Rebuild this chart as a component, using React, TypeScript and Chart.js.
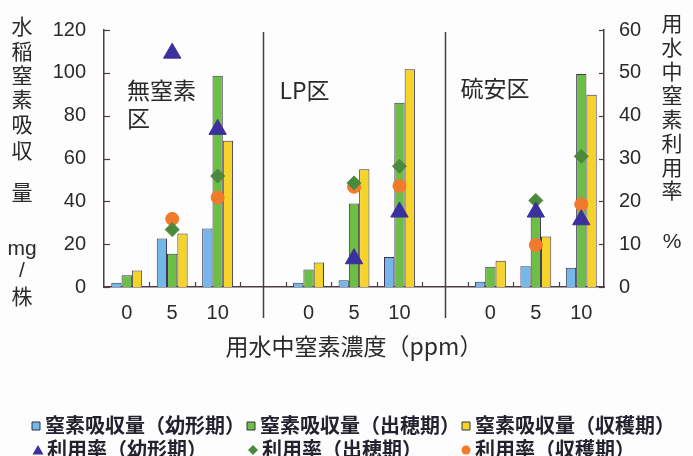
import React, { useEffect, useRef } from 'react';
import { Chart, registerables } from 'chart.js';

Chart.register(...registerables);

// ---------- data ----------
const categories = ['0', '5', '10', '', '0', '5', '10', '', '0', '5', '10'];
const panelNames = ['無窒素区', 'LP区', '硫安区'];
const yTickMax = 120;
const yTickStep = 20;
const y1TickMax = 60;
const y1TickStep = 10;

const uptakeYoukei = [2, 22.7, 27.3, null, 2, 3.2, 14, null, 2.4, 9.7, 9];
const uptakeShussui = [5.5, 15.5, 98.6, null, 8.2, 39, 86, null, 9.5, 33.5, 99.4];
const uptakeShukaku = [7.7, 25, 68.3, null, 11.4, 55, 101.7, null, 12.3, 23.6, 89.8];

const rateYoukei = [null, 54.6, 36.8, null, null, 6.6, 17.5, null, null, 17.5, 15.7];
const rateShussui = [null, 13.4, 25.9, null, null, 24.3, 28.2, null, null, 20.2, 30.5];
const rateShukaku = [null, 15.9, 20.9, null, null, 23.4, 23.6, null, null, 9.8, 19.3];

const seriesLabels = [
  '窒素吸収量（幼形期）',
  '窒素吸収量（出穂期）',
  '窒素吸収量（収穫期）',
  '利用率（幼形期）',
  '利用率（出穂期）',
  '利用率（収穫期）',
];
const leftTitleChars = ['水', '稲', '窒', '素', '吸', '収', '量'];
const leftUnitChars = ['mg', '/', '株'];
const rightTitleChars = ['用', '水', '中', '窒', '素', '利', '用', '率'];
const rightUnit = '%';
const xTitle = '用水中窒素濃度（ppm）';

// ---------- styles ----------
const W = 693;
const H = 456;
const CJK = "'Noto Sans CJK JP', 'Noto Sans', sans-serif";
const NUM = "'Liberation Sans', Arial, sans-serif";
const TEXT = '#2a2a2a';
const AXIS = '#4e3c44';
const BAR_BORDER = '#3a3456';
const C_BLUE = '#74b7e8';
const C_GREEN = '#6cbf44';
const C_YELLOW = '#f5d328';
const C_TRI = '#3c2f9e';
const C_DIA = '#4b8a3b';
const C_CIR = '#f27a2c';

const layout = {
  leftTitleX: 22,
  leftTitleY: [26, 51, 75, 99, 124, 150, 192],
  leftUnitY: [249, 271, 296],
  rightTitleX: 672,
  rightTitleY: [23, 47, 71, 95, 119, 143, 167, 190],
  rightUnitY: 242,
  panelLabelY: [90, 90, 88],
  panelLabelOffset: [23, 16, 15],
  legendRowY: [425, 449],
  legendX: [[36, 251, 466], [38, 253, 466]],
};

function drawMarker(ctx: CanvasRenderingContext2D, kind: string, cx: number, cy: number, color: string) {
  ctx.save();
  ctx.fillStyle = color;
  ctx.strokeStyle = '#333344';
  ctx.lineWidth = 1;
  ctx.beginPath();
  if (kind === 'square') {
    ctx.rect(cx - 4, cy - 4, 8, 8);
    ctx.fill();
    ctx.stroke();
  } else if (kind === 'triangle') {
    ctx.moveTo(cx, cy - 5);
    ctx.lineTo(cx + 5.5, cy + 4.5);
    ctx.lineTo(cx - 5.5, cy + 4.5);
    ctx.closePath();
    ctx.fill();
  } else if (kind === 'diamond') {
    ctx.moveTo(cx, cy - 5);
    ctx.lineTo(cx + 5, cy);
    ctx.lineTo(cx, cy + 5);
    ctx.lineTo(cx - 5, cy);
    ctx.closePath();
    ctx.fill();
  } else {
    ctx.arc(cx, cy, 4.5, 0, Math.PI * 2);
    ctx.fill();
  }
  ctx.restore();
}

const decorPlugin = {
  id: 'decor',
  beforeDraw(chart: any) {
    const { ctx } = chart;
    ctx.save();
    ctx.fillStyle = '#fdfdfe';
    ctx.fillRect(0, 0, chart.width, chart.height);
    ctx.restore();
  },
  afterDraw(chart: any) {
    const { ctx, chartArea: ca, scales } = chart;
    const x = scales.x;
    const y = scales.y;
    const y1 = scales.y1;
    ctx.save();
    ctx.strokeStyle = AXIS;
    ctx.lineWidth = 1.2;
    // inward ticks on left axis
    y.ticks.forEach((t: any) => {
      const py = Math.round(y.getPixelForValue(t.value)) + 0.5;
      ctx.beginPath();
      ctx.moveTo(ca.left, py);
      ctx.lineTo(ca.left + 6, py);
      ctx.stroke();
    });
    // inward ticks on right axis
    y1.ticks.forEach((t: any) => {
      const py = Math.round(y1.getPixelForValue(t.value)) + 0.5;
      ctx.beginPath();
      ctx.moveTo(ca.right - 5, py);
      ctx.lineTo(ca.right, py);
      ctx.stroke();
    });
    // x ticks at category boundaries
    for (let i = 0; i < categories.length - 1; i++) {
      const px = Math.round((x.getPixelForValue(i) + x.getPixelForValue(i + 1)) / 2) + 0.5;
      ctx.beginPath();
      ctx.moveTo(px, ca.bottom);
      ctx.lineTo(px, ca.bottom - 5);
      ctx.stroke();
    }
    // panel dividers
    const gaps = categories.map((c, i) => (c === '' ? i : -1)).filter((i) => i >= 0);
    const panelLefts = [ca.left];
    ctx.lineWidth = 1.5;
    ctx.strokeStyle = '#4a3c3c';
    gaps.forEach((gi) => {
      const px = Math.round(x.getPixelForValue(gi)) + 0.5;
      panelLefts.push(px);
      ctx.beginPath();
      ctx.moveTo(px, ca.top + 2);
      ctx.lineTo(px, ca.bottom + 31);
      ctx.stroke();
    });
    // panel labels
    ctx.fillStyle = TEXT;
    ctx.font = `23px ${CJK}`;
    ctx.textBaseline = 'middle';
    ctx.textAlign = 'left';
    panelNames.forEach((name, i) => {
      const lx = panelLefts[i] + layout.panelLabelOffset[i];
      const ly = layout.panelLabelY[i];
      if (i === 0) {
        ctx.fillText(name.slice(0, 3), lx, ly);
        ctx.fillText(name.slice(3), lx, ly + 28);
      } else {
        ctx.fillText(name, lx, ly);
      }
    });
    // left vertical title
    ctx.textAlign = 'center';
    ctx.font = `21px ${CJK}`;
    leftTitleChars.forEach((c, i) => ctx.fillText(c, layout.leftTitleX, layout.leftTitleY[i]));
    leftUnitChars.forEach((c, i) => {
      ctx.font = c === '株' ? `21px ${CJK}` : `21px ${NUM}`;
      ctx.fillText(c, layout.leftTitleX, layout.leftUnitY[i]);
    });
    // right vertical title
    ctx.font = `21px ${CJK}`;
    rightTitleChars.forEach((c, i) => ctx.fillText(c, layout.rightTitleX, layout.rightTitleY[i]));
    ctx.font = `21px ${NUM}`;
    ctx.fillText(rightUnit, layout.rightTitleX, layout.rightUnitY);
    // legend
    const kinds = ['square', 'square', 'square', 'triangle', 'diamond', 'circle'];
    const colors = [C_BLUE, C_GREEN, C_YELLOW, C_TRI, C_DIA, C_CIR];
    ctx.font = `bold 20px ${CJK}`;
    ctx.textAlign = 'left';
    seriesLabels.forEach((lab, i) => {
      const row = i < 3 ? 0 : 1;
      const col = i % 3;
      const mx = layout.legendX[row][col];
      const my = layout.legendRowY[row];
      drawMarker(ctx, kinds[i], mx, my + 1, colors[i]);
      ctx.fillStyle = '#23222e';
      ctx.fillText(lab, mx + 9, my);
    });
    ctx.restore();
  },
};

export default function App() {
  const canvasRef = useRef<HTMLCanvasElement | null>(null);

  useEffect(() => {
    const canvas = canvasRef.current;
    if (!canvas) return;
    const barCommon = {
      type: 'bar' as const,
      borderColor: BAR_BORDER,
      borderWidth: 1,
      barPercentage: 1,
      categoryPercentage: 0.68,
      yAxisID: 'y',
      order: 2,
    };
    const pointCommon = {
      type: 'line' as const,
      showLine: false,
      yAxisID: 'y1',
      order: 1,
      pointBorderWidth: 1,
    };
    const chart = new Chart(canvas, {
      type: 'bar',
      data: {
        labels: categories,
        datasets: [
          { ...barCommon, label: seriesLabels[0], data: uptakeYoukei, backgroundColor: C_BLUE },
          { ...barCommon, label: seriesLabels[1], data: uptakeShussui, backgroundColor: C_GREEN },
          { ...barCommon, label: seriesLabels[2], data: uptakeShukaku, backgroundColor: C_YELLOW },
          {
            ...pointCommon,
            label: seriesLabels[3],
            data: rateYoukei,
            pointStyle: 'triangle',
            pointRadius: 10,
            backgroundColor: C_TRI,
            borderColor: C_TRI,
          },
          {
            ...pointCommon,
            label: seriesLabels[4],
            data: rateShussui,
            pointStyle: 'rectRot',
            pointRadius: 7,
            backgroundColor: C_DIA,
            borderColor: C_DIA,
          },
          {
            ...pointCommon,
            label: seriesLabels[5],
            data: rateShukaku,
            pointStyle: 'circle',
            pointRadius: 6.5,
            backgroundColor: C_CIR,
            borderColor: C_CIR,
          },
        ] as any,
      },
      options: {
        responsive: false,
        animation: false,
        devicePixelRatio: 1,
        layout: { padding: { left: 44, right: 29, top: 23, bottom: 97 } },
        plugins: {
          legend: { display: false },
          tooltip: { enabled: false },
        },
        scales: {
          x: {
            offset: true,
            grid: { display: false, drawTicks: false },
            border: { display: true, color: AXIS, width: 1.5 },
            ticks: {
              font: { family: NUM, size: 20 },
              color: TEXT,
              padding: 14,
              autoSkip: false,
              maxRotation: 0,
            },
            title: {
              display: true,
              text: xTitle,
              font: { family: CJK, size: 23, lineHeight: 1 },
              color: TEXT,
              padding: { top: 0, bottom: 1 },
            },
            afterFit: (s: any) => {
              s.height = 72;
            },
          },
          y: {
            position: 'left',
            min: 0,
            max: yTickMax,
            grid: { display: false, drawTicks: false },
            border: { display: true, color: AXIS, width: 1.5 },
            ticks: {
              stepSize: yTickStep,
              font: { family: NUM, size: 20 },
              color: TEXT,
              padding: 18,
            },
            afterFit: (s: any) => {
              s.width = 60;
            },
          },
          y1: {
            position: 'right',
            min: 0,
            max: y1TickMax,
            grid: { display: false, drawTicks: false },
            border: { display: true, color: AXIS, width: 1.5 },
            ticks: {
              stepSize: y1TickStep,
              font: { family: NUM, size: 20 },
              color: TEXT,
              padding: 15,
            },
            afterFit: (s: any) => {
              s.width = 60;
            },
          },
        },
      } as any,
      plugins: [decorPlugin],
    });
    return () => chart.destroy();
  }, []);

  return (
    <div style={{ position: 'fixed', left: 0, top: 0, width: W, height: H }}>
      <canvas ref={canvasRef} width={W} height={H} style={{ width: W, height: H, display: 'block' }} />
    </div>
  );
}
